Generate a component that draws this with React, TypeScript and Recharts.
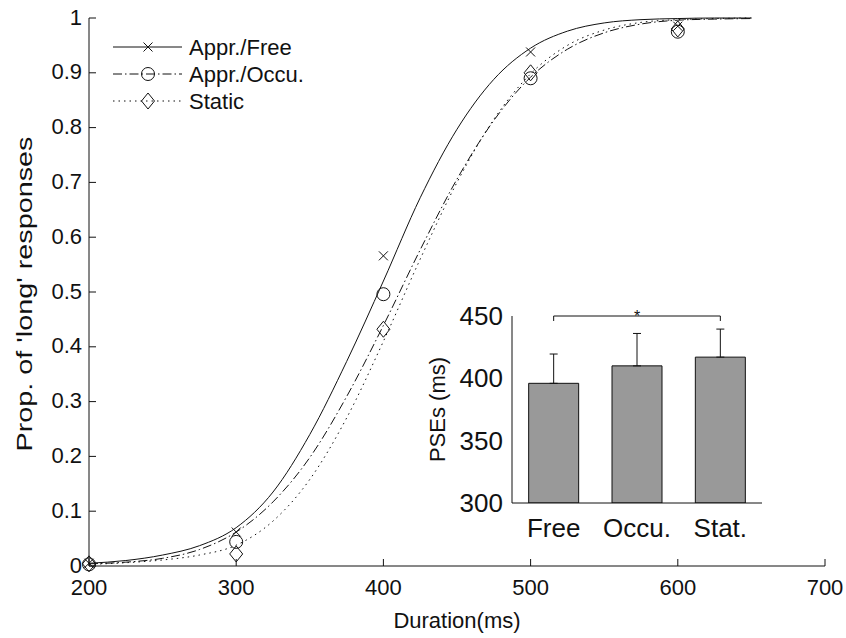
import React from "react";
import {
  ComposedChart,
  Line,
  Scatter,
  XAxis,
  YAxis,
  BarChart,
  Bar,
  ErrorBar,
  ReferenceLine,
  ReferenceDot,
} from "recharts";

// fitted psychometric curves, read every 25 ms
const durations = [200, 225, 250, 275, 300, 325, 350, 375, 400, 425, 450, 475, 500, 525, 550, 575, 600, 625, 650];
const fitFree = [0.005, 0.01, 0.02, 0.037, 0.07, 0.135, 0.24, 0.373, 0.52, 0.672, 0.797, 0.888, 0.945, 0.976, 0.991, 0.997, 0.999, 1.0, 1.0];
const fitOccu = [0.004, 0.007, 0.014, 0.03, 0.062, 0.117, 0.198, 0.309, 0.439, 0.577, 0.706, 0.813, 0.892, 0.943, 0.973, 0.989, 0.996, 0.998, 0.999];
const fitStatic = [0.003, 0.006, 0.011, 0.02, 0.038, 0.082, 0.158, 0.27, 0.41, 0.56, 0.7, 0.815, 0.898, 0.95, 0.978, 0.992, 0.997, 0.999, 1.0];

// observed proportions
const testDurations = [200, 300, 400, 500, 600];
const obsFree = [0.005, 0.062, 0.566, 0.938, 0.985];
const obsOccu = [0.003, 0.044, 0.496, 0.89, 0.975];
const obsStatic = [0.004, 0.022, 0.432, 0.9, 0.98];

const xTicks = [200, 300, 400, 500, 600, 700];
const yTicks = [0, 0.1, 0.2, 0.3, 0.4, 0.5, 0.6, 0.7, 0.8, 0.9, 1];

// inset: PSEs
const conditions = ["Free", "Occu.", "Stat."];
const pseMeans = [396, 410, 417];
const pseErrors = [23.5, 26, 22.5];
const pseTicks = [300, 350, 400, 450];

const legendNames = ["Appr./Free", "Appr./Occu.", "Static"];

const FONT = "'Liberation Sans', Arial, Helvetica, sans-serif";
const INK = "#111";

const curveRows = durations.map((d, i) => ({
  x: d,
  free: fitFree[i],
  occu: fitOccu[i],
  stat: fitStatic[i],
}));
const toPts = (vals: number[]) => testDurations.map((d, i) => ({ x: d, y: vals[i] }));
const pseRows = conditions.map((c, i) => ({ cond: c, pse: pseMeans[i], err: [0, pseErrors[i]] }));

const Cross = ({ cx, cy }: any) => (
  <path
    d={`M${cx - 4.5},${cy - 4.5}L${cx + 4.5},${cy + 4.5}M${cx - 4.5},${cy + 4.5}L${cx + 4.5},${cy - 4.5}`}
    stroke={INK}
    strokeWidth={1}
    fill="none"
  />
);
const Ring = ({ cx, cy }: any) => <circle cx={cx} cy={cy} r={6.5} stroke={INK} strokeWidth={1} fill="none" />;
const Diamond = ({ cx, cy }: any) => (
  <path
    d={`M${cx},${cy - 8}L${cx + 6.5},${cy}L${cx},${cy + 8}L${cx - 6.5},${cy}Z`}
    stroke={INK}
    strokeWidth={1}
    fill="none"
  />
);

const series = [
  { key: "free", dash: undefined, Marker: Cross, pts: toPts(obsFree) },
  { key: "occu", dash: "9 3 1.5 3", Marker: Ring, pts: toPts(obsOccu) },
  { key: "stat", dash: "1.5 4", Marker: Diamond, pts: toPts(obsStatic) },
];

const MainXTick = ({ x, y, payload }: any) => (
  <g>
    <line x1={x} x2={x} y1={y} y2={y - 7} stroke={INK} />
    <text x={x} y={y + 21} textAnchor="middle" dominantBaseline="central" fontSize={22} fontFamily={FONT} fill={INK}>
      {payload.value}
    </text>
  </g>
);

const MainYTick = ({ x, y, payload }: any) => (
  <g>
    <line x1={x} x2={x + 7} y1={y} y2={y} stroke={INK} />
    <text x={x - 7} y={y - 1} textAnchor="end" dominantBaseline="central" fontSize={22} fontFamily={FONT} fill={INK}>
      {payload.value}
    </text>
  </g>
);

const InsetXTick = ({ x, y, payload }: any) => (
  <text x={x} y={y + 25} textAnchor="middle" dominantBaseline="central" fontSize={26} fontFamily={FONT} fill={INK}>
    {payload.value}
  </text>
);

const InsetYTick = ({ x, y, payload }: any) => (
  <text x={x - 9} y={y} textAnchor="end" dominantBaseline="central" fontSize={26} fontFamily={FONT} fill={INK}>
    {payload.value}
  </text>
);

const Legend = () => (
  <svg width={320} height={130} style={{ position: "absolute", left: 0, top: 0 }}>
    {series.map((s, i) => {
      const y = 43 + i * 27;
      const M = s.Marker;
      return (
        <g key={s.key}>
          <line x1={105} x2={174} y1={y} y2={y} stroke={INK} strokeWidth={1} strokeDasharray={s.dash} />
          <M cx={140} cy={y} />
          <text x={181} y={y} dominantBaseline="central" fontSize={22} fontFamily={FONT} fill={INK}>
            {legendNames[i]}
          </text>
        </g>
      );
    })}
  </svg>
);

export default function App() {
  return (
    <div style={{ position: "absolute", left: 8, top: 4, width: 838, height: 634, fontFamily: FONT }}>
      <ComposedChart width={838} height={634} data={curveRows} margin={{ top: 14, right: 21, left: 0, bottom: 0 }}>
        <XAxis
          dataKey="x"
          type="number"
          domain={[200, 700]}
          ticks={xTicks}
          interval={0}
          height={72}
          tickSize={0}
          tickMargin={0}
          tickLine={false}
          axisLine={{ stroke: INK }}
          tick={(p: any) => <MainXTick {...p} />}
          label={(p: any) => {
            const vb = p.viewBox;
            return (
              <text x={vb.x + vb.width / 2} y={vb.y + 54} textAnchor="middle" dominantBaseline="central" fontSize={22} fontFamily={FONT} fill={INK}>
                Duration(ms)
              </text>
            );
          }}
        />
        <YAxis
          type="number"
          domain={[0, 1]}
          ticks={yTicks}
          interval={0}
          width={81}
          tickSize={0}
          tickMargin={0}
          tickLine={false}
          axisLine={{ stroke: INK }}
          tick={(p: any) => <MainYTick {...p} />}
          label={(p: any) => {
            const vb = p.viewBox;
            const cx = vb.x + 16;
            const cy = vb.y + vb.height / 2 + 2;
            return (
              <text
                x={cx}
                y={cy}
                transform={`rotate(-90 ${cx} ${cy})`}
                textAnchor="middle"
                dominantBaseline="central"
                fontSize={22}
                textLength={315}
                lengthAdjust="spacingAndGlyphs"
                fontFamily={FONT}
                fill={INK}
              >
                Prop. of 'long' responses
              </text>
            );
          }}
        />
        {series.map((s) => (
          <Line
            key={s.key}
            dataKey={s.key}
            type="monotone"
            stroke={INK}
            strokeWidth={1}
            strokeDasharray={s.dash}
            dot={false}
            activeDot={false}
            isAnimationActive={false}
          />
        ))}
        {series.map((s) => (
          <Scatter
            key={s.key + "-pts"}
            data={s.pts}
            dataKey="y"
            shape={(p: any) => <s.Marker cx={p.cx} cy={p.cy} />}
            isAnimationActive={false}
          />
        ))}
      </ComposedChart>
      <Legend />
      <div style={{ position: "absolute", left: 412, top: 286 }}>
        <BarChart width={360} height={260} data={pseRows} margin={{ top: 26, right: 18, left: 0, bottom: 0 }} barCategoryGap="20%">
          <XAxis
            dataKey="cond"
            height={47}
            interval={0}
            tickLine={false}
            tickSize={0}
            tickMargin={0}
            axisLine={{ stroke: INK }}
            tick={(p: any) => <InsetXTick {...p} />}
          />
          <YAxis
            type="number"
            domain={[300, 450]}
            ticks={pseTicks}
            interval={0}
            width={92}
            tickLine={false}
            tickSize={0}
            tickMargin={0}
            allowDataOverflow
            axisLine={{ stroke: INK }}
            tick={(p: any) => <InsetYTick {...p} />}
            label={(p: any) => {
              const vb = p.viewBox;
              const cx = vb.x + 17;
              const cy = vb.y + vb.height / 2;
              return (
                <text x={cx} y={cy} transform={`rotate(-90 ${cx} ${cy})`} textAnchor="middle" dominantBaseline="central" fontSize={22} fontFamily={FONT} fill={INK}>
                  PSEs (ms)
                </text>
              );
            }}
          />
          <Bar dataKey="pse" fill="#999999" stroke={INK} strokeWidth={1} isAnimationActive={false}>
            <ErrorBar dataKey="err" width={4} stroke={INK} strokeWidth={1} direction="y" />
          </Bar>
          <ReferenceLine segment={[{ x: "Free", y: 450 }, { x: "Stat.", y: 450 }]} stroke={INK} strokeWidth={1} />
          <ReferenceLine segment={[{ x: "Free", y: 450 }, { x: "Free", y: 446 }]} stroke={INK} strokeWidth={1} />
          <ReferenceLine segment={[{ x: "Stat.", y: 450 }, { x: "Stat.", y: 446 }]} stroke={INK} strokeWidth={1} />
          <ReferenceDot
            x="Occu."
            y={450}
            r={0}
            fill="none"
            stroke="none"
            label={{ value: "*", position: "center", fontSize: 16, fill: INK, fontFamily: FONT }}
          />
        </BarChart>
      </div>
    </div>
  );
}
